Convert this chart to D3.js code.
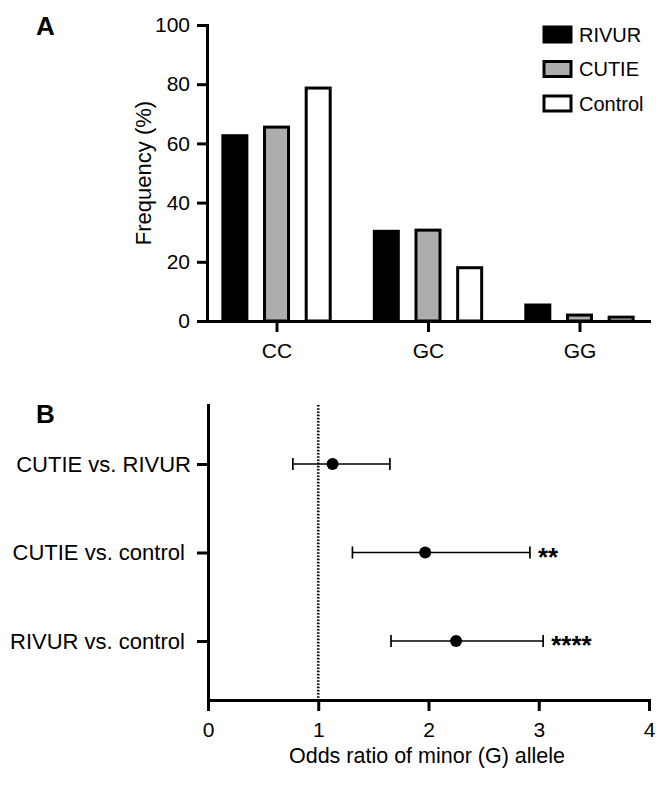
<!DOCTYPE html>
<html><head><meta charset="utf-8">
<script src="https://cdn.jsdelivr.net/npm/d3@7"></script>
<style>
body{margin:0;background:#fff}
svg{display:block}
text{font-family:"Liberation Sans",Arial,Helvetica,sans-serif;fill:#000}
</style>
</head><body>
<svg id="chart" width="670" height="793"></svg>
<script>
// ---- Panel A data ----
const genotypes = ["CC", "GC", "GG"];
const groups = ["RIVUR", "CUTIE", "Control"];
const rivurFreq = [62.6, 30.3, 5.4];
const cutieFreq = [65.5, 30.7, 2.0];
const controlFreq = [78.7, 18.0, 1.3];
const groupFills = ["#000000", "#adadad", "#ffffff"];
const freqTicks = [0, 20, 40, 60, 80, 100];

// ---- Panel B data ----
const comparisons = ["CUTIE vs. RIVUR", "CUTIE vs. control", "RIVUR vs. control"];
const oddsRatio = [1.13, 1.97, 2.25];
const ciLow = [0.77, 1.31, 1.66];
const ciHigh = [1.65, 2.92, 3.04];
const significance = ["", "**", "****"];
const orTicks = [0, 1, 2, 3, 4];

const svg = d3.select("#chart");
const seriesVals = [rivurFreq, cutieFreq, controlFreq];

// ================= Panel A =================
const xA = d3.scalePoint().domain(genotypes).range([207, 649]).padding(0.459);
const yA = d3.scaleLinear().domain([0, 100]).range([321, 25]);
const inner = d3.scaleBand().domain(groups).range([-62.5, 62.5]);
const barW = 24;

const gA = svg.append("g");
groups.forEach((grp, j) => {
  gA.append("g").selectAll("rect")
    .data(genotypes.map((g, i) => ({g, v: seriesVals[j][i]})))
    .join("rect")
    .attr("x", d => xA(d.g) + inner(grp) + inner.bandwidth() / 2 - barW / 2)
    .attr("y", d => yA(d.v))
    .attr("width", barW)
    .attr("height", d => yA(0) - yA(d.v))
    .attr("fill", groupFills[j])
    .attr("stroke", "#000")
    .attr("stroke-width", 3);
});

function styleAxis(g, fs) {
  g.selectAll("path.domain").attr("stroke", "#000").attr("stroke-width", 3).attr("stroke-linecap", "square");
  g.selectAll(".tick line").attr("stroke", "#000").attr("stroke-width", 3);
  g.selectAll("text").attr("font-size", fs).attr("font-family", null).attr("fill", "#000");
}

const yAxisA = svg.append("g").attr("transform", "translate(207,0)")
  .call(d3.axisLeft(yA).tickValues(freqTicks).tickSize(10).tickPadding(7).tickSizeOuter(0));
styleAxis(yAxisA, 21);

const xAxisA = svg.append("g").attr("transform", `translate(0,${yA(0)})`)
  .call(d3.axisBottom(xA).tickSize(11).tickPadding(11).tickSizeOuter(0));
styleAxis(xAxisA, 21);

svg.append("text")
  .attr("transform", "translate(151,173) rotate(-90)")
  .attr("text-anchor", "middle")
  .attr("font-size", 22)
  .text("Frequency (%)");

// legend
const leg = svg.append("g");
groups.forEach((grp, j) => {
  const cy = 34.5 + j * 34.5;
  leg.append("rect").attr("x", 544).attr("y", cy - 7.5).attr("width", 27).attr("height", 15)
    .attr("fill", groupFills[j]).attr("stroke", "#000").attr("stroke-width", 3);
  leg.append("text").attr("x", 579).attr("y", cy).attr("dy", "0.36em")
    .attr("font-size", 20).text(grp);
});

svg.append("text").attr("x", 36).attr("y", 35).attr("font-size", 26).attr("font-weight", "bold").text("A");

// ================= Panel B =================
const xB = d3.scaleLinear().domain([0, 4]).range([208, 649]);
const yB = d3.scalePoint().domain(comparisons).range([405, 700]).padding(2 / 3);

// reference line at OR = 1
svg.append("line")
  .attr("x1", xB(1)).attr("x2", xB(1)).attr("y1", 405).attr("y2", 700)
  .attr("stroke", "#000").attr("stroke-width", 2.6).attr("stroke-dasharray", "1.6,1.6");

const gB = svg.append("g");
comparisons.forEach((c, i) => {
  const yy = yB(c);
  gB.append("line").attr("x1", xB(ciLow[i])).attr("x2", xB(ciHigh[i])).attr("y1", yy).attr("y2", yy)
    .attr("stroke", "#000").attr("stroke-width", 1.7);
  [ciLow[i], ciHigh[i]].forEach(v => {
    gB.append("line").attr("x1", xB(v)).attr("x2", xB(v)).attr("y1", yy - 6).attr("y2", yy + 6)
      .attr("stroke", "#000").attr("stroke-width", 1.7);
  });
  gB.append("circle").attr("cx", xB(oddsRatio[i])).attr("cy", yy).attr("r", 6).attr("fill", "#000");
  if (significance[i]) {
    gB.append("text").attr("x", xB(ciHigh[i]) + 8).attr("y", yy + 13)
      .attr("font-size", 26).attr("font-weight", "bold").text(significance[i]);
  }
});

const yAxisB = svg.append("g").attr("transform", "translate(208,0)")
  .call(d3.axisLeft(yB).tickSize(11).tickPadding(6).tickSizeOuter(0)
    .tickFormat(d => d.endsWith("control") ? d + "\u00a0" : d));
styleAxis(yAxisB, 22);

const xAxisB = svg.append("g").attr("transform", "translate(0,700)")
  .call(d3.axisBottom(xB).tickValues(orTicks).tickFormat(d3.format("d")).tickSize(11).tickPadding(11).tickSizeOuter(0));
styleAxis(xAxisB, 21);

svg.append("text").attr("x", 427).attr("y", 763).attr("text-anchor", "middle")
  .attr("font-size", 21.5).text("Odds ratio of minor (G) allele");

svg.append("text").attr("x", 36).attr("y", 423).attr("font-size", 26).attr("font-weight", "bold").text("B");
</script>
</body></html>
